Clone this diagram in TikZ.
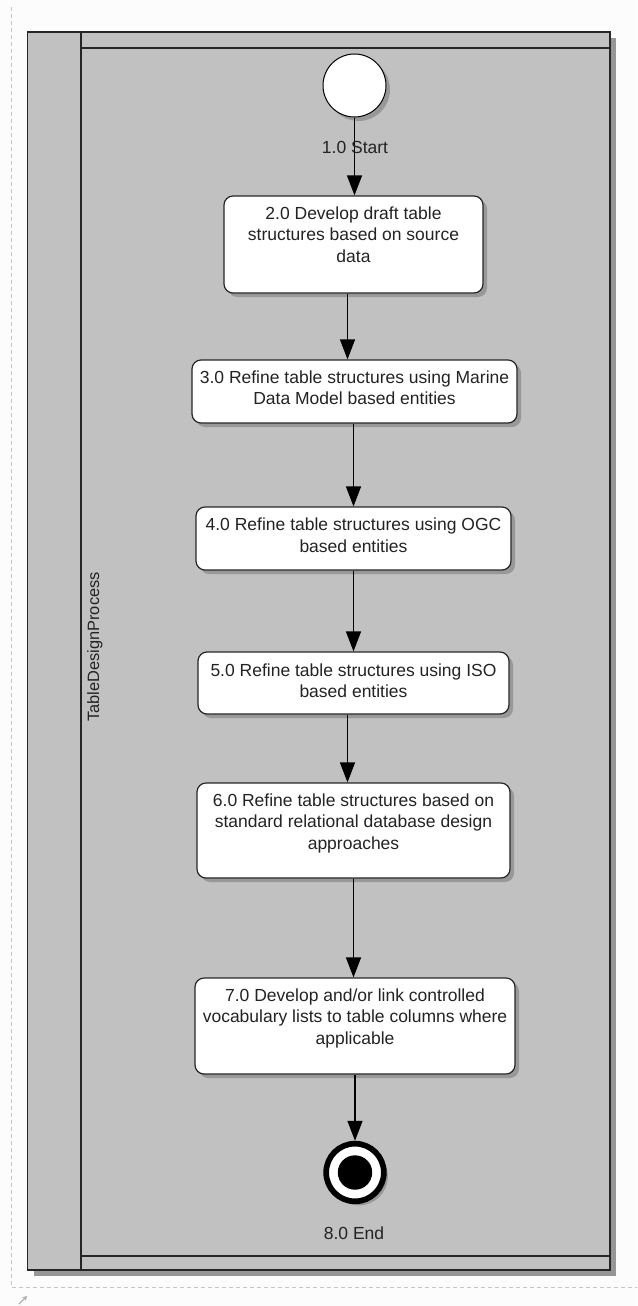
\documentclass[tikz,border=0pt]{standalone}
\usepackage{fontspec}
\setmainfont{Liberation Sans}
\usetikzlibrary{arrows.meta,shadows}

\definecolor{pagebg}{RGB}{251,252,251}
\definecolor{lanefill}{RGB}{192,193,192}
\definecolor{laneshade}{RGB}{150,150,150}
\definecolor{boxshade}{RGB}{120,120,120}
\definecolor{framedraw}{RGB}{38,38,38}
\definecolor{inktext}{RGB}{35,35,35}
\definecolor{guide}{RGB}{196,198,196}

\tikzset{
  activity/.style={rectangle, rounded corners=9pt, draw=framedraw, line width=1.2pt,
    fill=white, inner sep=0pt,
    drop shadow={shadow xshift=4pt, shadow yshift=-4pt, fill=boxshade, opacity=0.55}},
  boxtext/.style={anchor=north, inner sep=0pt, align=center, text=inktext,
    font=\fontsize{17.5}{21.5}\selectfont},
  flowlabel/.style={inner sep=0pt, text=inktext, font=\fontsize{17.5}{21.5}\selectfont},
  flow/.style={draw=black, line width=1.3pt, -{Triangle[length=20pt,width=15pt]}},
  initial/.style={circle, draw=black, line width=1pt, fill=white, minimum size=63pt,
    inner sep=0pt,
    drop shadow={shadow xshift=4pt, shadow yshift=-4pt, fill=boxshade, opacity=0.55}},
  final/.style={circle, draw=black, line width=5.7pt, fill=white, minimum size=57.7pt,
    inner sep=0pt,
    path picture={\fill[black] (path picture bounding box.center) circle (17.2pt);},
    drop shadow={shadow xshift=4pt, shadow yshift=-4pt, fill=boxshade, opacity=0.55}},
}

\newcommand{\firstline}{\rule{0pt}{13pt}}

\begin{document}
\begin{tikzpicture}[x=1pt, y=-1pt]
  % page
  \fill[pagebg] (0,0) rectangle (637,1306);
  \useasboundingbox (0,0) rectangle (637,1306);

  % selection guide and corner handle
  \draw[guide, line width=0.8pt, dash pattern=on 4pt off 3pt] (11,7) -- (11,1287) -- (637,1287);
  \draw[guide!70!gray, line width=1.2pt, -{Stealth[length=4.5pt,width=5pt]}] (19,1304) -- (27,1296);

  % swimlane pool
  \fill[laneshade] (33.6,38) rectangle (615.5,1276);
  \draw[framedraw, line width=1.6pt, fill=lanefill] (27.6,32) rectangle (610,1270);
  \draw[framedraw, line width=1.6pt] (81,32) -- (81,1270);
  \draw[framedraw, line width=1.6pt] (81,48) -- (610,48);
  \draw[framedraw, line width=1.6pt] (81,1256) -- (610,1256);
  \node[rotate=90, inner sep=0pt, text=inktext, font=\fontsize{16.4}{20}\selectfont]
    (lane) at (95,647) {TableDesignProcess};

  % activities
  \node[initial] (start) at (354.5,85.5) {};
  \node[activity, minimum width=259pt, minimum height=97pt] (a2) at (353.5,244.5) {};
  \node[activity, minimum width=325pt, minimum height=63pt] (a3) at (354.5,391.5) {};
  \node[activity, minimum width=315pt, minimum height=63pt] (a4) at (353.5,538.5) {};
  \node[activity, minimum width=311pt, minimum height=62pt] (a5) at (353.5,683) {};
  \node[activity, minimum width=313pt, minimum height=95pt] (a6) at (353.5,830.5) {};
  \node[activity, minimum width=320pt, minimum height=96pt] (a7) at (355,1026) {};
  \node[final] (stop) at (355,1172.5) {};

  % activity captions
  \node[boxtext] (t2) at ([yshift=-10.6pt]a2.north)
    {\firstline 2.0 Develop draft table\\structures based on source\\data};
  \node[boxtext] (t3) at ([yshift=-10.6pt]a3.north)
    {\firstline 3.0 Refine table structures using Marine\\Data Model based entities};
  \node[boxtext] (t4) at ([yshift=-11.2pt]a4.north)
    {\firstline 4.0 Refine table structures using OGC\\based entities};
  \node[boxtext] (t5) at ([yshift=-11.6pt]a5.north)
    {\firstline 5.0 Refine table structures using ISO\\based entities};
  \node[boxtext] (t6) at ([yshift=-10.6pt]a6.north)
    {\firstline 6.0 Refine table structures based on\\standard relational database design\\approaches};
  \node[boxtext] (t7) at ([yshift=-10.6pt]a7.north)
    {\firstline 7.0 Develop and/or link controlled\\vocabulary lists to table columns where\\applicable};

  % control flow
  \draw[flow] (start.south) -- (start.south |- a2.north);
  \draw[flow] ([xshift=-6pt]a2.south) -- ([xshift=-6pt]a2.south |- a3.north);
  \draw[flow] ([xshift=-1pt]a3.south) -- ([xshift=-1pt]a3.south |- a4.north);
  \draw[flow] (a4.south) -- (a4.south |- a5.north);
  \draw[flow] ([xshift=-6pt]a5.south) -- ([xshift=-6pt]a5.south |- a6.north);
  \draw[flow] (a6.south) -- (a6.south |- a7.north);
  \draw[flow] (a7.south) -- (stop.north);

  % node names
  \node[flowlabel] (startname) at (355,147) {1.0 Start};
  \node[flowlabel] (stopname) at (354,1233) {8.0 End};
\end{tikzpicture}
\end{document}
